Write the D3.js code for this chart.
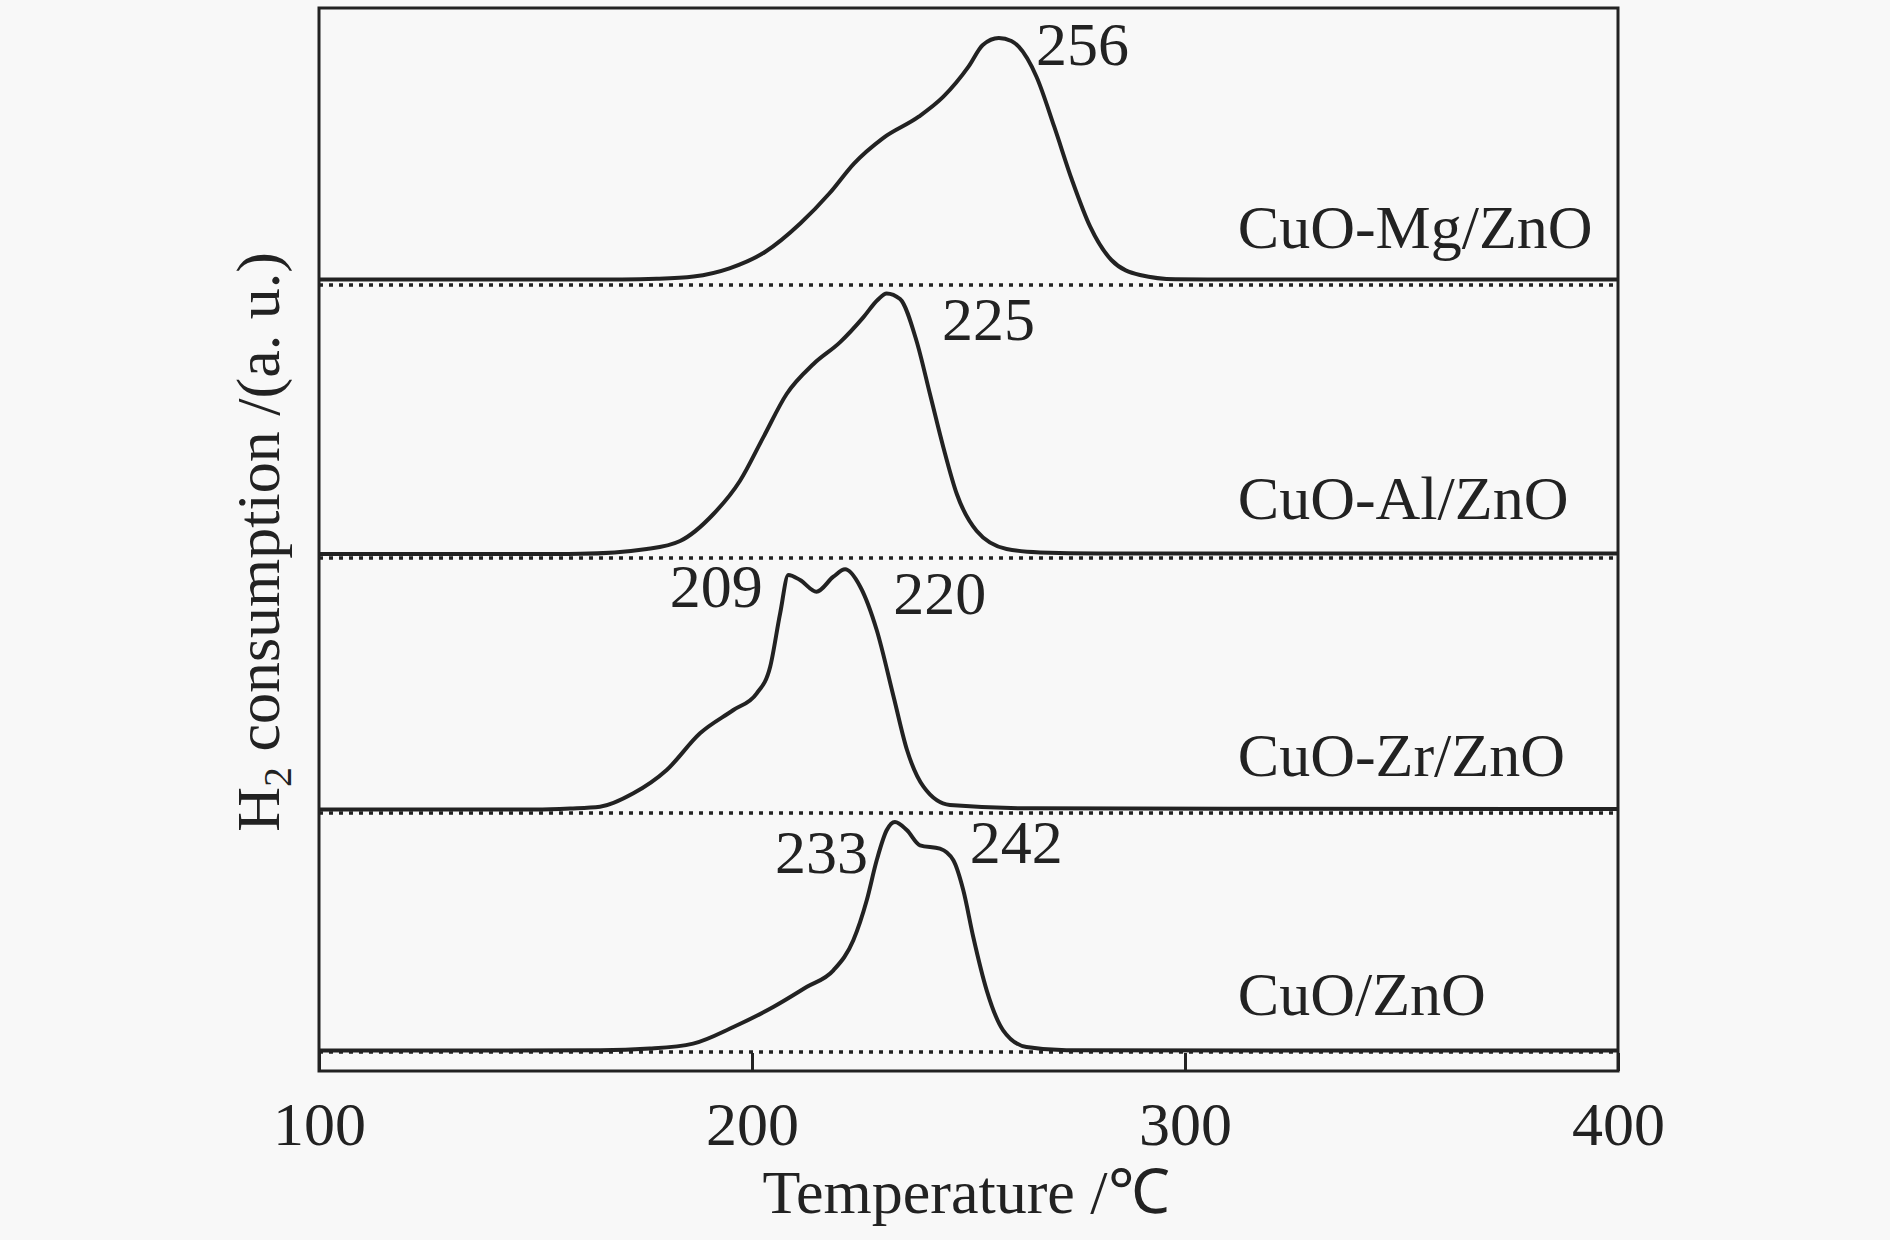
<!DOCTYPE html>
<html lang="en">
<head>
    <meta charset="UTF-8">
    <script src="https://cdn.jsdelivr.net/npm/d3@7"></script>
    <title>H2-TPR profiles</title>
    <style>
        html, body {
            margin: 0px;
            padding: 0px;
            background-color: #f8f8f8;
        }
        svg text {
            font-family: "Liberation Serif", "Times New Roman", serif;
            fill: #222;
        }
    </style>
</head>
<body>
    <div id="chart"></div>
    <script>

        // sample names, bottom to top
        let samples = ['CuO/ZnO', 'CuO-Zr/ZnO', 'CuO-Al/ZnO', 'CuO-Mg/ZnO'];
        // vertical offset of each trace (a.u.)
        let offsets = [19, 258, 513, 786];

        // temperatures (°C) and signal (a.u.)
        let cuo_t = [100, 165, 176.4, 186.4, 195.7, 204.9, 212.6, 218.8, 223.4, 226.5, 228.8, 231.1, 233, 235.8, 238.8, 243.4, 246.5, 248.8, 251.1, 254.2, 258, 263.4, 272.6, 400];
        let cuo_v = [1.5, 1.7, 3.4, 8.4, 25, 45, 65, 81.7, 111.7, 151.7, 191.7, 221.7, 230, 221.7, 206.7, 203.4, 191.7, 161.7, 115, 61.7, 21.7, 5, 1.7, 1.5];

        let zr_t = [100, 150, 158, 164.9, 172.6, 180.3, 188, 195.7, 201.1, 204.2, 206.5, 208.4, 211.1, 214.9, 218.8, 221.5, 225, 228.8, 232.7, 235.8, 239.6, 245.7, 264.9, 400];
        let zr_v = [3.5, 3.5, 4.5, 6.3, 19.7, 43, 79.7, 103, 119.7, 146.3, 199.7, 238, 233, 221.3, 236.3, 243.7, 226.3, 183, 116.3, 63, 26.3, 8, 4.7, 4];

        let al_t = [100, 150, 160.3, 175.7, 183.4, 191.1, 197.2, 202.6, 208, 214.2, 220.3, 225.7, 229, 231.1, 234.2, 238, 241.1, 244.2, 247.3, 251.9, 258.8, 266.5, 280, 400];
        let al_v = [4, 4, 4.2, 9, 17, 44, 77, 120.6, 164, 194, 215.6, 240.6, 258, 264.6, 259, 217, 164, 110.6, 64, 27, 9, 5.6, 4.5, 4.5];

        let mg_t = [100, 150, 170, 178, 186.5, 194.8, 203, 211.2, 217.9, 223.6, 230.2, 238.5, 244.2, 250, 253.3, 257, 259.9, 261.6, 265.7, 269.8, 273.9, 278.1, 283, 289.6, 297.8, 310, 400];
        let mg_v = [5.5, 5.5, 5.6, 6.2, 8.5, 16.7, 33, 61.7, 91.7, 121.7, 146.7, 168.3, 188.3, 218.3, 240, 247, 244, 238.3, 208.3, 158.3, 105, 58.3, 25, 10, 5.7, 5.5, 5.5];

        let temps = [cuo_t, zr_t, al_t, mg_t];
        let values = [cuo_v, zr_v, al_v, mg_v];

        // peak labels: text, temperature, level (a.u.), anchor
        let peak_text = ['233', '242', '209', '220', '225', '256'];
        let peak_t = [226.8, 250.3, 202.5, 232.6, 243.9, 265.6];
        let peak_y = [198, 208, 464, 457, 731, 1006];
        let peak_anchor = ['end', 'start', 'end', 'start', 'start', 'start'];

        // sample name labels
        let name_t = 312.2;
        let name_y = [56, 295, 552, 823];

        let x_ticks = [100, 200, 300, 400];

        let width = 1890;
        let height = 1240;
        let margin = { top: 8, right: 272, bottom: 169, left: 319 };

        let svg = d3.select('#chart').append('svg')
            .attr('width', width)
            .attr('height', height);

        let x = d3.scaleLinear()
            .domain([100, 400])
            .range([margin.left, width - margin.right]);

        let y = d3.scaleLinear()
            .domain([0, 1063])
            .range([height - margin.bottom, margin.top]);

        // bottom axis with inward ticks
        let xAxis = d3.axisBottom(x)
            .tickValues(x_ticks)
            .tickSizeInner(-18)
            .tickSizeOuter(0)
            .tickPadding(30)
            .tickFormat(d3.format('d'));

        let gx = svg.append('g')
            .attr('transform', `translate(0,${height - margin.bottom})`)
            .call(xAxis);
        gx.select('.domain').remove();
        gx.selectAll('.tick line').attr('stroke', '#222').attr('stroke-width', 3);
        gx.selectAll('.tick text')
            .attr('font-size', 62)
            .style('font-family', '"Liberation Serif", serif')
            .attr('fill', '#222');

        // dotted baselines
        svg.selectAll('line.base')
            .data(offsets)
            .join('line')
            .attr('class', 'base')
            .attr('x1', x(100))
            .attr('x2', x(400))
            .attr('y1', (d) => y(d))
            .attr('y2', (d) => y(d))
            .attr('stroke', '#222')
            .attr('stroke-width', 3.5)
            .attr('stroke-dasharray', '4,6');

        let line = d3.line()
            .x((d) => x(d[0]))
            .y((d) => y(d[1]))
            .curve(d3.curveMonotoneX);

        samples.forEach((s, i) => {
            let pts = temps[i].map((t, j) => [t, offsets[i] + values[i][j]]);
            svg.append('path')
                .datum(pts)
                .attr('d', line)
                .attr('fill', 'none')
                .attr('stroke', '#222')
                .attr('stroke-width', 4)
                .attr('stroke-linejoin', 'round');
        });

        // frame
        svg.append('rect')
            .attr('x', x(100))
            .attr('y', y(1063))
            .attr('width', x(400) - x(100))
            .attr('height', y(0) - y(1063))
            .attr('fill', 'none')
            .attr('stroke', '#222')
            .attr('stroke-width', 3);

        // sample names
        svg.selectAll('text.name')
            .data(samples)
            .join('text')
            .attr('class', 'name')
            .attr('x', x(name_t))
            .attr('y', (d, i) => y(name_y[i]))
            .attr('font-size', 62)
            .text((d) => d);

        // peak temperatures
        svg.selectAll('text.peak')
            .data(peak_text)
            .join('text')
            .attr('class', 'peak')
            .attr('x', (d, i) => x(peak_t[i]))
            .attr('y', (d, i) => y(peak_y[i]))
            .attr('text-anchor', (d, i) => peak_anchor[i])
            .attr('font-size', 62)
            .text((d) => d);

        // axis titles
        svg.append('text')
            .attr('x', 966)
            .attr('y', 1213)
            .attr('text-anchor', 'middle')
            .attr('font-size', 62)
            .text('Temperature /℃');

        let ylab = svg.append('text')
            .attr('transform', 'translate(279,542) rotate(-90)')
            .attr('text-anchor', 'middle')
            .attr('font-size', 62);
        ylab.append('tspan').text('H');
        ylab.append('tspan').attr('font-size', 40).attr('dy', 12).text('2');
        ylab.append('tspan').attr('dy', -12).text(' consumption /(a. u.)');

    </script>
</body>
</html>
